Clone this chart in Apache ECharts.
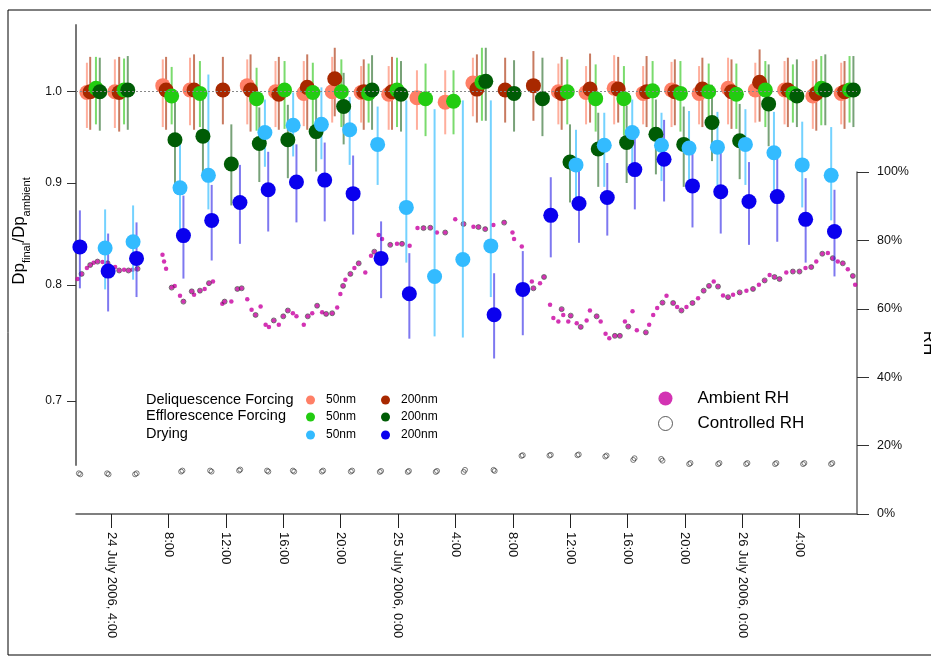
<!DOCTYPE html>
<html>
<head>
<meta charset="utf-8">
<script src="https://cdn.jsdelivr.net/npm/echarts@6/dist/echarts.min.js"></script>
<style>
  html, body { margin: 0; padding: 0; background: #fff; }
  #chart { width: 931px; height: 664px; }
</style>
</head>
<body>
<div id="chart"></div>
<script>
// hours since 24 July 2006, 0:00
const tickHours = [4, 8, 12, 16, 20, 24, 28, 32, 36, 40, 44, 48, 52];
const tickLabels = ['24 July 2006, 4:00', '8:00', '12:00', '16:00', '20:00', '25 July 2006, 0:00',
  '4:00', '8:00', '12:00', '16:00', '20:00', '26 July 2006, 0:00', '4:00'];
const ratioTicks = [0.7, 0.8, 0.9, 1.0];

// [hour, Dp_final/Dp_ambient, lower, upper]
const deliq50 = [
  [2.31, 0.999, 0.959, 1.034], [4.26, 1.000, 0.959, 1.038], [7.60, 1.007, 0.960, 1.038],
  [9.50, 1.002, 0.962, 1.040], [13.49, 1.007, 0.963, 1.038], [15.46, 1.000, 0.960, 1.036],
  [17.43, 0.998, 0.961, 1.036], [19.41, 1.000, 0.965, 1.041], [21.43, 0.999, 0.965, 1.030],
  [23.35, 0.997, 0.957, 1.030], [25.32, 0.993, 0.957, 1.025], [27.29, 0.988, 0.952, 1.025],
  [29.22, 1.010, 0.972, 1.040], [35.18, 1.000, 0.963, 1.033], [37.11, 0.999, 0.963, 1.030],
  [39.07, 1.004, 0.963, 1.043], [41.09, 0.998, 0.963, 1.030], [43.07, 1.002, 0.960, 1.035],
  [44.99, 0.998, 0.963, 1.030], [47.01, 1.004, 0.963, 1.040], [48.91, 1.002, 0.965, 1.034],
  [50.95, 1.002, 0.963, 1.036], [52.92, 0.995, 0.958, 1.036], [54.90, 0.998, 0.963, 1.034]
];
const deliq200 = [
  [2.54, 1.000, 0.957, 1.041], [4.56, 0.999, 0.955, 1.041], [7.83, 1.002, 0.957, 1.041],
  [9.78, 1.002, 0.957, 1.044], [11.79, 1.002, 0.963, 1.041], [13.72, 1.002, 0.955, 1.044],
  [15.69, 0.997, 0.957, 1.041], [17.67, 1.005, 0.957, 1.044], [19.59, 1.015, 0.972, 1.052],
  [21.61, 1.000, 0.957, 1.038], [23.58, 1.000, 0.957, 1.041], [29.50, 1.003, 0.965, 1.044],
  [31.47, 1.002, 0.965, 1.040], [33.44, 1.007, 0.967, 1.048], [35.41, 0.998, 0.957, 1.041],
  [37.39, 1.003, 0.965, 1.045], [39.35, 1.003, 0.965, 1.041], [41.33, 1.000, 0.960, 1.042],
  [43.30, 1.000, 0.962, 1.038], [45.22, 1.003, 0.960, 1.040], [47.25, 1.000, 0.958, 1.038],
  [49.21, 1.011, 0.966, 1.050], [51.18, 1.002, 0.960, 1.040], [53.16, 0.998, 0.956, 1.038],
  [55.13, 1.000, 0.958, 1.036]
];
const effl50 = [
  [2.94, 1.004, 0.963, 1.041], [4.90, 1.002, 0.963, 1.039], [8.22, 0.995, 0.963, 1.029],
  [10.19, 0.998, 0.960, 1.036], [14.14, 0.992, 0.956, 1.028], [16.09, 1.002, 0.958, 1.036],
  [18.06, 0.999, 0.958, 1.034], [20.05, 1.000, 0.960, 1.038], [21.95, 0.998, 0.965, 1.033],
  [23.93, 1.002, 0.960, 1.040], [25.92, 0.992, 0.950, 1.033], [27.87, 0.989, 0.952, 1.025],
  [29.85, 1.011, 0.967, 1.052], [35.80, 1.000, 0.963, 1.038], [37.78, 0.992, 0.955, 1.032],
  [39.75, 0.992, 0.951, 1.030], [41.75, 1.001, 0.957, 1.036], [43.69, 0.998, 0.955, 1.036],
  [45.66, 1.000, 0.960, 1.033], [47.59, 0.997, 0.958, 1.033], [49.61, 1.002, 0.960, 1.036],
  [51.53, 0.998, 0.965, 1.032], [53.51, 1.004, 0.962, 1.042], [55.48, 1.002, 0.965, 1.042]
];
const effl200 = [
  [3.21, 1.000, 0.956, 1.040], [5.16, 1.002, 0.957, 1.042], [8.45, 0.946, 0.890, 0.995],
  [10.40, 0.950, 0.907, 0.991], [12.38, 0.920, 0.877, 0.963], [14.33, 0.942, 0.901, 0.982],
  [16.32, 0.946, 0.905, 0.985], [18.29, 0.955, 0.912, 0.999], [20.21, 0.983, 0.941, 1.022],
  [22.19, 1.002, 0.957, 1.043], [24.21, 0.997, 0.955, 1.036], [30.12, 1.012, 0.967, 1.052],
  [32.09, 0.998, 0.955, 1.037], [34.07, 0.992, 0.950, 1.040], [35.99, 0.922, 0.880, 0.963],
  [37.96, 0.936, 0.896, 0.976], [39.94, 0.943, 0.900, 0.984], [41.98, 0.952, 0.909, 0.991],
  [43.92, 0.941, 0.896, 0.983], [45.89, 0.965, 0.923, 1.008], [47.82, 0.945, 0.904, 0.986],
  [49.84, 0.986, 0.939, 1.032], [51.81, 0.995, 0.960, 1.038], [53.79, 1.002, 0.962, 1.044],
  [55.75, 1.002, 0.960, 1.042]
];
const dry50 = [
  [3.58, 0.835, 0.796, 0.873], [5.53, 0.841, 0.805, 0.877], [8.80, 0.895, 0.846, 0.943],
  [10.78, 0.908, 0.873, 1.020], [14.72, 0.954, 0.917, 0.991], [16.69, 0.962, 0.928, 0.999],
  [18.66, 0.963, 0.925, 1.005], [20.63, 0.957, 0.919, 0.994], [22.58, 0.941, 0.898, 0.983],
  [24.58, 0.875, 0.821, 0.990], [26.55, 0.808, 0.754, 0.980], [28.52, 0.824, 0.753, 0.990],
  [30.47, 0.837, 0.789, 0.990], [36.41, 0.919, 0.885, 0.957], [38.38, 0.940, 0.896, 0.976],
  [40.33, 0.954, 0.915, 0.991], [42.37, 0.940, 0.902, 0.976], [44.29, 0.937, 0.895, 0.978],
  [46.27, 0.938, 0.896, 0.977], [48.22, 0.941, 0.898, 0.980], [50.21, 0.932, 0.888, 0.977],
  [52.18, 0.919, 0.875, 0.966], [54.20, 0.908, 0.862, 0.960]
];
const dry200 = [
  [1.82, 0.836, 0.797, 0.872], [3.79, 0.813, 0.776, 0.849], [5.77, 0.825, 0.789, 0.860],
  [9.04, 0.847, 0.806, 0.887], [11.01, 0.862, 0.823, 0.898], [12.98, 0.880, 0.839, 0.919],
  [14.95, 0.893, 0.851, 0.933], [16.92, 0.901, 0.860, 0.941], [18.89, 0.903, 0.861, 0.943],
  [20.87, 0.889, 0.848, 0.929], [22.82, 0.825, 0.788, 0.861], [24.79, 0.792, 0.752, 0.830],
  [30.70, 0.773, 0.735, 0.811], [32.70, 0.796, 0.755, 0.832], [34.65, 0.867, 0.826, 0.906],
  [36.62, 0.879, 0.840, 0.919], [38.59, 0.885, 0.847, 0.921], [40.51, 0.914, 0.873, 0.949],
  [42.55, 0.925, 0.881, 0.968], [44.53, 0.897, 0.855, 0.935], [46.50, 0.891, 0.849, 0.932],
  [48.47, 0.881, 0.838, 0.922], [50.44, 0.886, 0.841, 0.928], [52.42, 0.863, 0.821, 0.905],
  [54.43, 0.851, 0.808, 0.893]
];

// [hour, RH %]
const ambientRH = [
  [1.66, 68.7], [1.94, 70.2], [2.31, 71.9], [2.54, 72.8], [2.78, 73.5], [3.05, 73.8], [3.40, 73.7],
  [3.75, 73.3], [4.28, 72.2], [4.56, 71.2], [4.90, 71.4], [5.21, 71.2], [5.49, 71.4], [5.84, 71.7],
  [7.58, 75.8], [7.69, 73.8], [7.83, 71.7], [8.22, 66.2], [8.43, 66.7], [8.80, 63.8], [9.04, 62.1],
  [9.62, 65.1], [9.78, 64.1], [10.19, 65.3], [10.52, 65.8], [10.82, 67.5], [11.10, 68.0],
  [11.75, 61.5], [11.91, 62.1], [12.38, 62.1], [12.80, 65.8], [13.10, 66.0], [13.49, 62.8],
  [13.79, 59.7], [14.07, 58.2], [14.42, 60.7], [14.77, 55.3], [15.00, 54.7], [15.34, 56.6],
  [15.69, 55.3], [16.00, 57.8], [16.32, 59.5], [16.67, 58.7], [16.92, 57.8], [17.43, 55.3],
  [17.71, 57.8], [18.02, 58.7], [18.36, 60.9], [18.71, 59.0], [18.99, 58.5], [19.41, 58.7],
  [19.76, 60.4], [19.98, 64.3], [20.17, 66.7], [20.33, 68.5], [20.68, 70.2], [20.96, 71.9],
  [21.26, 73.3], [21.72, 70.6], [22.12, 75.5], [22.35, 76.7], [22.65, 81.6], [22.89, 80.4],
  [23.46, 78.7], [23.93, 79.0], [24.28, 79.0], [24.81, 78.4], [25.36, 83.6], [25.78, 83.6],
  [26.25, 83.7], [26.71, 82.3], [27.29, 82.3], [27.99, 86.2], [28.57, 84.8], [29.26, 84.0],
  [29.61, 83.9], [30.08, 83.3], [30.65, 84.5], [31.40, 85.2], [31.98, 82.3], [32.09, 80.4],
  [32.63, 78.2], [33.33, 68.0], [33.44, 66.0], [33.90, 67.5], [34.18, 69.3], [34.60, 61.2],
  [34.83, 57.3], [35.18, 56.3], [35.41, 59.9], [35.52, 58.2], [35.87, 56.3], [36.04, 58.0],
  [36.46, 55.8], [36.74, 54.7], [37.15, 56.6], [37.38, 59.5], [37.85, 57.8], [38.13, 56.3],
  [38.47, 52.7], [38.73, 51.4], [39.12, 52.1], [39.47, 52.1], [39.82, 56.3], [40.05, 54.8],
  [40.35, 59.3], [40.65, 53.7], [41.28, 53.1], [41.51, 55.3], [41.79, 58.2], [42.07, 60.2],
  [42.44, 61.8], [42.72, 63.8], [43.18, 61.7], [43.46, 60.5], [43.76, 59.5], [44.11, 60.5],
  [44.53, 61.7], [44.92, 63.1], [45.31, 65.3], [45.68, 66.7], [46.01, 68.0], [46.31, 66.5],
  [46.66, 63.9], [47.01, 63.4], [47.36, 64.1], [47.82, 64.8], [48.29, 65.3], [48.75, 65.8],
  [49.16, 67.0], [49.56, 68.3], [49.91, 69.9], [50.25, 69.3], [50.60, 68.7], [51.07, 70.6],
  [51.53, 70.9], [51.99, 70.9], [52.41, 71.9], [52.81, 72.2], [53.16, 73.8], [53.58, 76.1],
  [53.97, 76.3], [54.31, 74.8], [54.66, 73.8], [55.01, 73.3], [55.36, 71.6], [55.71, 69.6],
  [55.87, 67.0]
];
const controlledRH = [
  // on the ambient curve
  [1.94, 70.2], [2.54, 72.8], [3.05, 73.8], [3.75, 73.3], [4.56, 71.2], [5.21, 71.2], [5.84, 71.7],
  [8.22, 66.2], [9.04, 62.1], [9.62, 65.1], [10.19, 65.3], [10.82, 67.5], [11.91, 62.1], [12.80, 65.8],
  [13.10, 66.0], [14.07, 58.2], [15.34, 56.6], [16.00, 57.8], [16.32, 59.5], [17.71, 57.8], [18.36, 60.9],
  [18.99, 58.5], [19.41, 58.7], [20.17, 66.7], [20.68, 70.2], [21.26, 73.3], [22.35, 76.7], [23.46, 78.7],
  [24.28, 79.0], [25.78, 83.6], [26.25, 83.7], [27.29, 82.3], [28.57, 84.8], [29.61, 83.9], [30.08, 83.3],
  [31.40, 85.2], [33.44, 66.0], [34.18, 69.3], [35.41, 59.9], [36.04, 58.0], [36.74, 54.7], [37.85, 57.8],
  [39.12, 52.1], [39.47, 52.1], [40.05, 54.8], [41.28, 53.1], [42.44, 61.8], [43.18, 61.7], [43.76, 59.5],
  [44.53, 61.7], [45.31, 65.3], [45.68, 66.7], [46.31, 66.5], [47.01, 63.4], [47.82, 64.8], [48.75, 65.8],
  [49.56, 68.3], [50.25, 69.3], [50.60, 68.7], [51.53, 70.9], [51.99, 70.9], [52.81, 72.2], [53.58, 76.1],
  [54.31, 74.8], [55.01, 73.3], [55.71, 69.6],
  // dry set points
  [1.75, 11.9], [1.85, 11.6], [3.72, 11.9], [3.82, 11.6], [5.67, 11.6], [5.78, 11.9],
  [8.88, 12.4], [8.97, 12.7], [10.90, 12.7], [11.00, 12.4], [12.92, 12.7], [13.00, 13.0],
  [14.87, 12.7], [14.96, 12.4], [16.67, 12.7], [16.76, 12.4], [18.69, 12.4], [18.78, 12.7],
  [20.71, 12.4], [20.80, 12.7], [22.73, 12.3], [22.82, 12.6], [24.68, 12.3], [24.76, 12.6],
  [26.63, 12.3], [26.72, 12.6], [28.58, 12.3], [28.67, 12.9], [30.66, 12.9], [30.74, 12.6],
  [32.61, 17.0], [32.70, 17.2], [34.56, 17.1], [34.65, 17.3], [36.51, 17.2], [36.60, 17.4],
  [38.45, 16.8], [38.54, 17.1], [40.40, 15.8], [40.49, 16.3], [42.35, 16.1], [42.44, 15.6],
  [44.30, 14.6], [44.39, 14.9], [46.32, 14.6], [46.41, 14.9], [48.27, 14.6], [48.36, 14.9],
  [50.29, 14.6], [50.38, 14.9], [52.24, 14.6], [52.33, 14.9], [54.19, 14.6], [54.28, 14.9]
];

const FONT = '"Liberation Sans", Arial, sans-serif';
const X_MIN = 1.55, X_MAX = 56;

function errSeries(name, data, color) {
  return {
    type: 'custom', name: name + ' err', xAxisIndex: 0, yAxisIndex: 0, z: 3, silent: true,
    data: data,
    encode: { x: 0, y: 1 },
    renderItem: function (params, api) {
      const x = api.value(0);
      const p1 = api.coord([x, api.value(2)]);
      const p2 = api.coord([x, api.value(3)]);
      return {
        type: 'line',
        shape: { x1: p1[0], y1: p1[1], x2: p2[0], y2: p2[1] },
        style: { stroke: color, lineWidth: 2 }
      };
    }
  };
}

function dotSeries(name, data, color) {
  return {
    type: 'scatter', name: name, data: data, xAxisIndex: 0, yAxisIndex: 0, z: 4,
    symbol: 'circle', symbolSize: 15, itemStyle: { color: color, opacity: 1 }
  };
}

const groups = [
  ['Deliquescence 50nm', deliq50, '#FF7F66', 'rgba(255,120,90,0.6)'],
  ['Deliquescence 200nm', deliq200, '#A82800', 'rgba(170,50,10,0.65)'],
  ['Efflorescence 50nm', effl50, '#22CC11', 'rgba(50,200,30,0.65)'],
  ['Efflorescence 200nm', effl200, '#005C05', 'rgba(30,100,30,0.6)'],
  ['Drying 50nm', dry50, '#33BBFF', 'rgba(70,195,255,0.75)'],
  ['Drying 200nm', dry200, '#0A00EE', 'rgba(40,30,230,0.6)']
];

const series = [
  {
    type: 'scatter', name: 'Ambient RH', data: ambientRH, xAxisIndex: 1, yAxisIndex: 1, z: 1,
    symbol: 'circle', symbolSize: 4.5, itemStyle: { color: '#C800A0' }
  },
  {
    type: 'scatter', name: 'Controlled RH', data: controlledRH, xAxisIndex: 1, yAxisIndex: 1, z: 2,
    symbol: 'circle', symbolSize: 5,
    itemStyle: { color: 'rgba(0,0,0,0)', borderColor: '#333', borderWidth: 0.8 }
  }
];
groups.forEach(function (g) { series.push(errSeries(g[0], g[1], g[3])); });
series[2].markLine = {
  silent: true, symbol: 'none', label: { show: false },
  lineStyle: { color: '#888', type: [2, 2], width: 1 },
  data: [{ yAxis: 1 }]
};
groups.forEach(function (g) { series.push(dotSeries(g[0], g[1], g[2])); });

function rowLegend(top, names) {
  return {
    left: 301, top: top, data: names, icon: 'circle', itemWidth: 9, itemHeight: 9, itemGap: 25,
    selectedMode: false, formatter: function (n) { return n.split(' ')[1]; },
    textStyle: { fontSize: 12, fontFamily: FONT, color: '#000', padding: [0, 0, 0, 6] }
  };
}

const option = {
  animation: false,
  backgroundColor: '#fff',
  textStyle: { fontFamily: FONT },
  grid: [
    { left: 76, right: 74, top: 25, bottom: 199, containLabel: false, outerBoundsMode: 'none' },
    { left: 76, right: 74, top: 172, bottom: 150, containLabel: false, outerBoundsMode: 'none' }
  ],
  xAxis: [
    { gridIndex: 0, type: 'value', min: X_MIN, max: X_MAX, show: false },
    {
      gridIndex: 1, type: 'value', min: X_MIN, max: X_MAX,
      axisLine: { onZero: false, lineStyle: { color: '#555', width: 1.5 } },
      axisTick: { customValues: tickHours, length: 14, lineStyle: { color: '#222' } },
      axisLabel: {
        customValues: tickHours, rotate: -90, margin: 18, fontSize: 13, color: '#111', fontFamily: FONT,
        formatter: function (v) { return tickLabels[tickHours.indexOf(v)]; }
      },
      splitLine: { show: false }
    }
  ],
  yAxis: [
    {
      gridIndex: 0, type: 'log', logBase: 10, min: 0.65, max: 1.08, position: 'left',
      name: '{a|Dp}{b|final}{a|/Dp}{b|ambient}', nameLocation: 'middle', nameRotate: 90, nameGap: 48,
      nameTextStyle: {
        padding: [0, 0, 0, 28],
        rich: {
          a: { fontSize: 17, fontFamily: FONT, color: '#000', lineHeight: 22, verticalAlign: 'bottom' },
          b: { fontSize: 11, fontFamily: FONT, color: '#000', lineHeight: 22, verticalAlign: 'bottom', padding: [0, 0, -4, 0] }
        }
      },
      axisLine: { show: true, lineStyle: { color: '#777', width: 2 } },
      axisTick: { show: true, customValues: ratioTicks, length: 9, lineStyle: { color: '#333' } },
      axisLabel: {
        customValues: ratioTicks, fontSize: 12, color: '#111', fontFamily: FONT, margin: 14,
        formatter: function (v) { return (+v).toFixed(1); }
      },
      splitLine: { show: false }, minorTick: { show: false }
    },
    {
      gridIndex: 1, type: 'value', min: 0, max: 100, interval: 20, position: 'right',
      name: 'RH', nameLocation: 'middle', nameRotate: -90, nameGap: 62,
      nameTextStyle: { fontSize: 17, fontFamily: FONT, color: '#000' },
      axisLine: { show: true, lineStyle: { color: '#666', width: 1.5 } },
      axisTick: { show: true, length: 12, lineStyle: { color: '#333' } },
      axisLabel: { formatter: '{value}%', fontSize: 12.5, color: '#111', fontFamily: FONT, margin: 20 },
      splitLine: { show: false }
    }
  ],
  legend: [
    rowLegend(389, ['Deliquescence 50nm', 'Deliquescence 200nm']),
    rowLegend(406, ['Efflorescence 50nm', 'Efflorescence 200nm']),
    rowLegend(424, ['Drying 50nm', 'Drying 200nm']),
    {
      left: 653, top: 385, orient: 'vertical', selectedMode: false, itemGap: 8,
      itemWidth: 14, itemHeight: 14,
      data: [
        { name: 'Ambient RH', icon: 'circle', itemStyle: { color: '#C800A0' } },
        { name: 'Controlled RH', icon: 'circle', itemStyle: { color: '#fff', borderColor: '#333', borderWidth: 1 } }
      ],
      textStyle: { fontSize: 17, fontFamily: FONT, color: '#000', padding: [0, 0, 0, 20] }
    }
  ],
  graphic: [
    { type: 'rect', shape: { x: 8, y: 10, width: 960, height: 645 }, style: { fill: 'none', stroke: '#000', lineWidth: 1 }, silent: true },
    { type: 'text', x: 146, y: 400, style: { text: 'Deliquescence Forcing', font: '14.5px ' + FONT, fill: '#000', verticalAlign: 'middle' } },
    { type: 'text', x: 146, y: 416, style: { text: 'Efflorescence Forcing', font: '14.5px ' + FONT, fill: '#000', verticalAlign: 'middle' } },
    { type: 'text', x: 146, y: 434, style: { text: 'Drying', font: '14.5px ' + FONT, fill: '#000', verticalAlign: 'middle' } }
  ],
  series: series
};

const chart = echarts.init(document.getElementById('chart'), null, { renderer: 'canvas' });
chart.setOption(option);
window.addEventListener('resize', chart.resize);
</script>
</body>
</html>
